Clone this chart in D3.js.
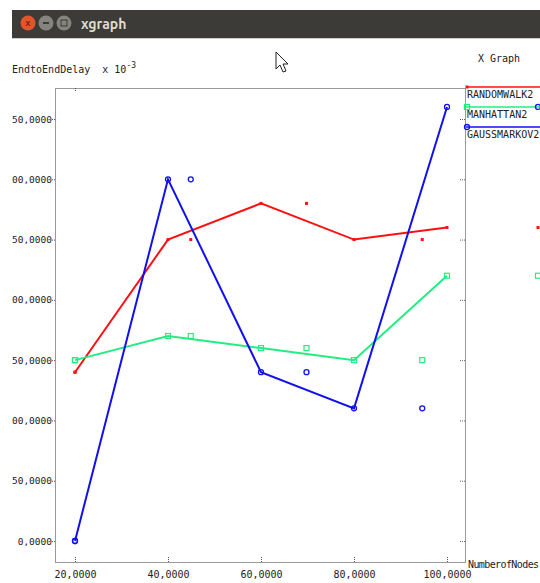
<!DOCTYPE html>
<html>
<head>
<meta charset="utf-8">
<script src="https://cdn.jsdelivr.net/npm/d3@7"></script>
<style>
  html, body { margin: 0; padding: 0; background: #fff; }
  svg { display: block; }
  text { font-family: "DejaVu Sans Mono", monospace; font-size: 10px; fill: #222; white-space: pre; }
</style>
</head>
<body>
<div id="chart"></div>
<script>
// xgraph output: end to end delay vs number of nodes
const nodesX = [20, 40, 60, 80, 100];
const randomWalk = [140, 250, 280, 250, 260];
const manhattan = [150, 170, 160, 150, 220];
const gaussMarkov = [0, 300, 140, 110, 360];
const seriesNames = ['RANDOMWALK2', 'MANHATTAN2', 'GAUSSMARKOV2'];
const yTicks = [0, 50, 100, 150, 200, 250, 300, 350];
const xTicks = [20, 40, 60, 80, 100];

const width = 540, height = 583;
const svg = d3.select('#chart').append('svg')
    .attr('width', width)
    .attr('height', height);

// window title bar
const bar = svg.append('g');
bar.append('rect').attr('x', 12).attr('y', 10).attr('width', 528).attr('height', 28).attr('fill', '#3c3b37');
bar.append('line').attr('x1', 12).attr('x2', 540).attr('y1', 38.5).attr('y2', 38.5).attr('stroke', '#cfcfcf');
const btnColors = ['#e4542b', '#85847e', '#85847e'];
[28, 46, 64].forEach((cx, i) => {
    bar.append('circle').attr('cx', cx).attr('cy', 23).attr('r', 7.5).attr('fill', btnColors[i]);
});
bar.append('text').attr('x', 28).attr('y', 26).attr('text-anchor', 'middle')
    .style('font-family', 'DejaVu Sans').style('font-size', '9px').style('fill', '#5a1a0a').text('x');
bar.append('rect').attr('x', 43).attr('y', 22).attr('width', 6).attr('height', 2).attr('fill', '#3c3b37');
bar.append('rect').attr('x', 61).attr('y', 20).attr('width', 6).attr('height', 6).attr('fill', 'none').attr('stroke', '#3c3b37');
bar.append('text').attr('x', 81).attr('y', 29)
    .style('font-family', 'Ubuntu, "DejaVu Sans"').style('font-size', '14px').style('font-weight', 'bold')
    .style('fill', '#dfdbd2').text('xgraph');

// mouse pointer
svg.append('path')
    .attr('d', 'M276,52 L276,69 L280,65 L283,72 L286,71 L283,64 L288,64 Z')
    .attr('fill', '#fff').attr('stroke', '#222').attr('stroke-width', 1);

const plot = { left: 55, right: 465, top: 88, bottom: 562 };

const x = d3.scaleLinear().domain([20, 100]).range([75, 447]);
const y = d3.scaleLinear().domain([0, 350]).range([541, 119]);
// xgraph draws a second, stretched copy of the markers
const xGhost = d3.scaleLinear().domain([20, 100]).range([75, 538]);

const fmt = d => d3.format('.4f')(d).replace('.', ',');

// dotted frame
svg.append('rect')
    .attr('x', plot.left + 0.5).attr('y', plot.top + 0.5)
    .attr('width', plot.right - plot.left).attr('height', plot.bottom - plot.top)
    .attr('fill', 'none').attr('stroke', '#333').attr('stroke-dasharray', '1,1');

// y axis, labels clipped at the window edge like the original
svg.append('clipPath').attr('id', 'yclip')
    .append('rect').attr('x', 12 - plot.left).attr('y', 80).attr('width', 60).attr('height', 490);
const yAxis = svg.append('g')
    .attr('transform', `translate(${plot.left},0)`)
    .attr('clip-path', 'url(#yclip)')
    .call(d3.axisLeft(y).tickValues(yTicks).tickSize(3).tickPadding(0).tickFormat(fmt));
yAxis.select('.domain').remove();
yAxis.selectAll('line').attr('stroke', '#555').attr('stroke-dasharray', '1,1');
yAxis.selectAll('text').style('font-family', '"DejaVu Sans Mono", monospace').style('font-size', '9.5px').attr('fill', '#222');

// right side ticks
const yRight = svg.append('g')
    .attr('transform', `translate(${plot.right},0)`)
    .call(d3.axisLeft(y).tickValues(yTicks).tickSize(5).tickFormat(''));
yRight.select('.domain').remove();
yRight.selectAll('line').attr('stroke', '#666').attr('stroke-dasharray', '1,1');

// x axis
const xAxis = svg.append('g')
    .attr('transform', `translate(0,${plot.bottom})`)
    .call(d3.axisTop(x).tickValues(xTicks).tickSize(5).tickFormat(''));
xAxis.select('.domain').remove();
xAxis.selectAll('line').attr('stroke', '#555').attr('stroke-dasharray', '1,1');
const xLabels = svg.append('g')
    .attr('transform', `translate(0,${plot.bottom})`)
    .call(d3.axisBottom(x).tickValues(xTicks).tickSize(0).tickPadding(9).tickFormat(fmt));
xLabels.select('.domain').remove();
xLabels.selectAll('text').style('font-family', '"DejaVu Sans Mono", monospace').style('font-size', '10px').attr('fill', '#222');

// top tick
const xTop = svg.append('g')
    .attr('transform', `translate(0,${plot.top})`)
    .call(d3.axisBottom(x).tickValues([20]).tickSize(4).tickFormat(''));
xTop.select('.domain').remove();
xTop.selectAll('line').attr('stroke', '#555').attr('stroke-dasharray', '1,1');

// titles
const yt = svg.append('text').attr('x', 12).attr('y', 73);
yt.append('tspan').text('EndtoEndDelay  x 10');
yt.append('tspan').attr('dy', -5).style('font-size', '8px').text('-3');
svg.append('text').attr('x', 478).attr('y', 62).text('X Graph');
svg.append('text').attr('x', 468).attr('y', 568).attr('letter-spacing', -0.6).text('NumberofNodes');

// series
const series = [
    { name: seriesNames[0], values: randomWalk, color: '#ff1010', marker: 'dot', ly: 87 },
    { name: seriesNames[1], values: manhattan, color: '#22ee80', marker: 'square', ly: 107 },
    { name: seriesNames[2], values: gaussMarkov, color: '#1010f0', marker: 'circle', ly: 127 }
];

const line = d3.line().x((d, i) => x(nodesX[i])).y(d => y(d));

function drawMarker(g, cx, cy, s) {
    if (s.marker === 'dot') {
        g.append('rect').attr('x', cx - 1.5).attr('y', cy - 1.5).attr('width', 3).attr('height', 3).attr('fill', s.color);
    } else if (s.marker === 'square') {
        g.append('rect').attr('x', cx - 2.5).attr('y', cy - 2.5).attr('width', 5).attr('height', 5)
            .attr('fill', 'none').attr('stroke', s.color).attr('stroke-width', 1.2);
    } else {
        g.append('circle').attr('cx', cx).attr('cy', cy).attr('r', 2.5)
            .attr('fill', 'none').attr('stroke', s.color).attr('stroke-width', 1.3);
    }
}

series.forEach(s => {
    const g = svg.append('g');
    g.append('path').datum(s.values).attr('d', line)
        .attr('fill', 'none').attr('stroke', s.color).attr('stroke-width', 2);
    s.values.forEach((v, i) => {
        drawMarker(g, x(nodesX[i]), y(v), s);
        drawMarker(g, xGhost(nodesX[i]), y(v), s);
    });
    // legend entry
    g.append('line').attr('x1', 466).attr('x2', 540).attr('y1', s.ly).attr('y2', s.ly)
        .attr('stroke', s.color).attr('stroke-width', 1.5);
    drawMarker(g, 467, s.ly, s);
    g.append('text').attr('x', 467).attr('y', s.ly + 11).text(s.name);
});
</script>
</body>
</html>
